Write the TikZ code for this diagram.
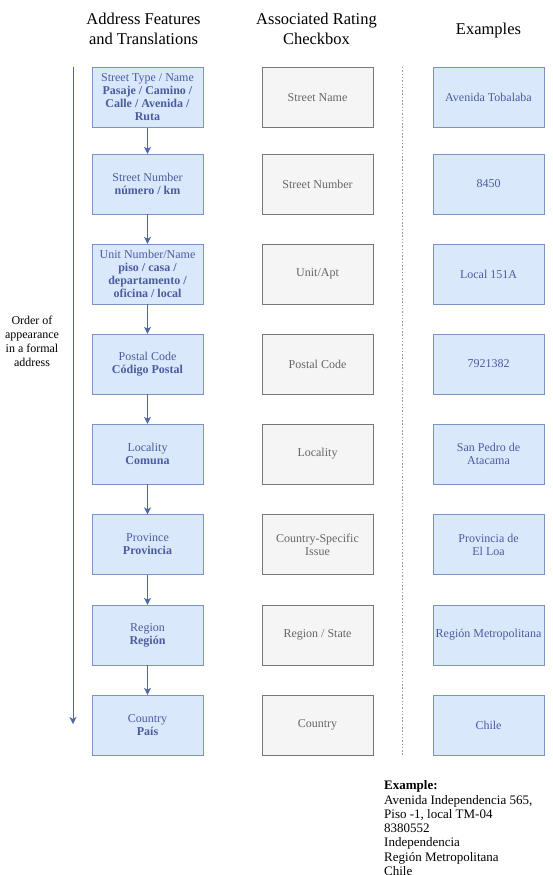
\documentclass[tikz,border=0pt]{standalone}
\usepackage{fontspec}
\setmainfont{Liberation Serif}
\usetikzlibrary{arrows.meta,positioning}

\definecolor{featfill}{HTML}{DAE8FC}
\definecolor{featline}{HTML}{7D93BF}
\definecolor{feattext}{HTML}{4B5C9E}
\definecolor{ratefill}{HTML}{F5F5F5}
\definecolor{rateline}{HTML}{777777}
\definecolor{ratetext}{HTML}{666666}
\definecolor{flowcol}{HTML}{5166A6}

\begin{document}
\begin{tikzpicture}[x=1pt,y=-1pt]
		\tikzstyle{feature}=[draw=featline,fill=featfill,text=feattext,minimum width=111pt,minimum height=60pt,inner sep=0pt,align=center,font=\fontsize{12}{13}\selectfont]
		\tikzstyle{rating}=[draw=rateline,fill=ratefill,text=ratetext,minimum width=111pt,minimum height=60pt,inner sep=0pt,align=center,font=\fontsize{12}{13}\selectfont]
		\tikzstyle{sample}=[feature]
		\tikzstyle{header}=[align=center,font=\fontsize{16.5}{20}\selectfont]
		\tikzstyle{flow}=[draw=flowcol,line width=1pt,-{Stealth[length=7pt,width=7pt,inset=2pt]}]
		\tikzstyle{separator}=[draw=gray!80,line width=1pt,dash pattern=on 1.5pt off 1.8pt]
		
		\useasboundingbox (0,0) rectangle (552,875);
		\clip (0,0) rectangle (552,875);
		
		% Column titles
		\node[header] (hfeat) at (143.5,29) {Address Features\\and Translations};
		\node[header] (hrate) at (316.5,29) {Associated Rating\\Checkbox};
		\node[header] (hsamp) at (488.5,31) {Examples};
		
		% Address features
		\node[feature] (f1) at (147.5,97.5) {Street Type / Name\\\textbf{Pasaje / Camino /}\\\textbf{Calle / Avenida /}\\\textbf{Ruta}};
		\node[feature] (f2) at (147.5,184) {Street Number\\\textbf{número / km}};
		\node[feature] (f3) at (147.5,274) {Unit Number/Name\\\textbf{piso / casa /}\\\textbf{departamento /}\\\textbf{oficina / local}};
		\node[feature] (f4) at (147.5,364) {Postal Code\\\textbf{Código Postal}};
		\node[feature] (f5) at (147.5,454) {Locality\\\textbf{Comuna}};
		\node[feature] (f6) at (147.5,544.5) {Province\\\textbf{Provincia}};
		\node[feature] (f7) at (147.5,635) {Region\\\textbf{Región}};
		\node[feature] (f8) at (147.5,725) {Country\\\textbf{País}};
		
		\draw [flow] (f1) -- (f2);
		\draw [flow] (f2) -- (f3);
		\draw [flow] (f3) -- (f4);
		\draw [flow] (f4) -- (f5);
		\draw [flow] (f5) -- (f6);
		\draw [flow] (f6) -- (f7);
		\draw [flow] (f7) -- (f8);
		
		% Order of appearance
		\coordinate (ordtop) at (73,67);
		\coordinate (ordend) at (73,724);
		\draw [flow] (ordtop) -- (ordend);
		\node[align=center,font=\fontsize{12}{14}\selectfont] (order) at (32,341) {Order of\\appearance\\in a formal\\address};
		
		% Rating checkboxes
		\node[rating] (r1) at (317.5,97.5) {Street Name};
		\node[rating] (r2) at (317.5,184) {Street Number};
		\node[rating] (r3) at (317.5,274) {Unit/Apt};
		\node[rating] (r4) at (317.5,364) {Postal Code};
		\node[rating] (r5) at (317.5,454) {Locality};
		\node[rating] (r6) at (317.5,544.5) {Country-Specific\\Issue};
		\node[rating] (r7) at (317.5,635) {Region / State};
		\node[rating] (r8) at (317.5,725) {Country};
		
		% Separator
		\coordinate (septop) at (402,67);
		\coordinate (sepend) at (402,755);
		\draw [separator] (septop) -- (sepend);
		
		% Examples
		\node[sample] (s1) at (488.5,97.5) {Avenida Tobalaba};
		\node[sample] (s2) at (488.5,184) {8450};
		\node[sample] (s3) at (488.5,274) {Local 151A};
		\node[sample] (s4) at (488.5,364) {7921382};
		\node[sample] (s5) at (488.5,454) {San Pedro de\\Atacama};
		\node[sample] (s6) at (488.5,544.5) {Provincia de\\El Loa};
		\node[sample] (s7) at (488.5,635) {Región Metropolitana};
		\node[sample] (s8) at (488.5,725) {Chile};
		
		\node[anchor=north west,inner sep=0pt,align=left,font=\fontsize{13}{14.3}\selectfont] (full) at (384,780.5) {\textbf{Example:}\\Avenida Independencia 565,\\Piso -1, local TM-04\\8380552\\Independencia\\Región Metropolitana\\Chile};
\end{tikzpicture}
\end{document}
